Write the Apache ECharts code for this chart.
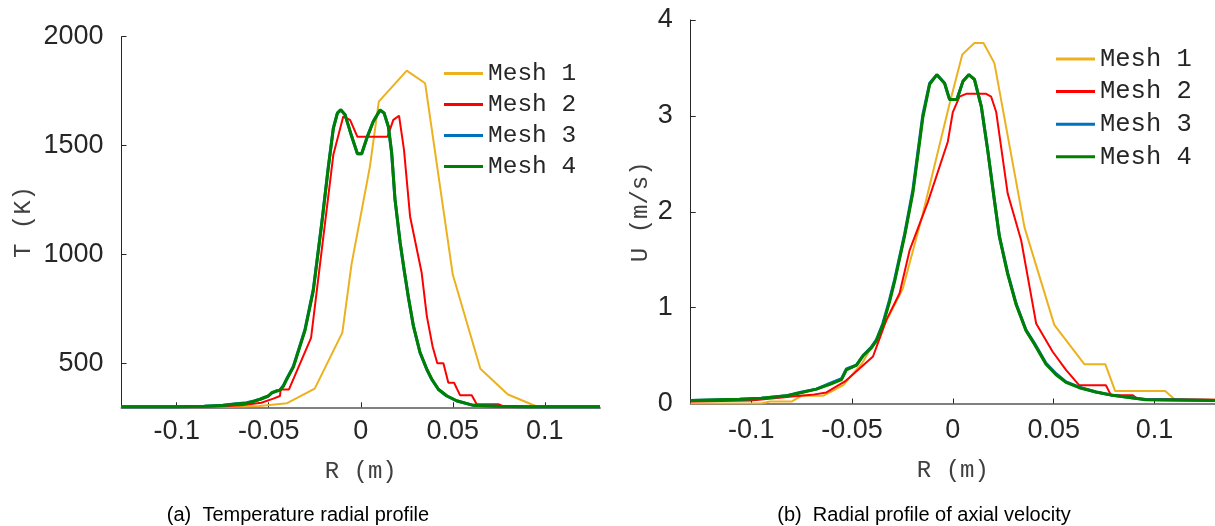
<!DOCTYPE html>
<html>
<head>
<meta charset="utf-8">
<script src="https://cdn.jsdelivr.net/npm/echarts@6/dist/echarts.min.js"></script>
<style>
html,body{margin:0;padding:0;background:#fff;}
#chart{width:1215px;height:526px;}
</style>
</head>
<body>
<div id="chart"></div>
<script>
// ---------- DATA ----------
var seriesNames = ['Mesh 1', 'Mesh 2', 'Mesh 3', 'Mesh 4'];
var xTicks = [-0.1, -0.05, 0, 0.05, 0.1];
var tTicks = [500, 1000, 1500, 2000];
var uTicks = [0, 1, 2, 3, 4];

// (a) Temperature radial profile
var tR1 = [-0.13, -0.1, -0.085, -0.07, -0.055, -0.04, -0.025, -0.01, -0.005, 0.005, 0.0098, 0.025, 0.035, 0.05, 0.065, 0.08, 0.095, 0.12, 0.13];
var tT1 = [300, 300, 300, 301, 303, 316, 383, 640, 955, 1404, 1702, 1844, 1786, 907, 474, 356, 303, 303, 300];

var tR2 = [-0.13, -0.09, -0.075, -0.065, -0.054, -0.0475, -0.0439, -0.0435, -0.039, -0.027, -0.0149, -0.0095, -0.0058, -0.0018, 0.0145, 0.0177, 0.0208, 0.0235, 0.0268, 0.0331, 0.0359, 0.039, 0.0416, 0.0449, 0.0476, 0.0507, 0.054, 0.0603, 0.063, 0.0748, 0.077, 0.09, 0.13];
var tT2 = [300, 300, 302, 306, 318, 337, 349, 379, 379, 616, 1457, 1633, 1618, 1540, 1540, 1618, 1637, 1480, 1174, 915, 716, 578, 499, 499, 410, 410, 352, 352, 311, 311, 303, 301, 300];

var tR3 = [-0.13, -0.1, -0.085, -0.075, -0.069, -0.062, -0.058, -0.0547, -0.0502, -0.0484, -0.0457, -0.044, -0.042, -0.0402, -0.0366, -0.0303, -0.0258, -0.0212, -0.0176, -0.0149, -0.0127, -0.0109, -0.0085, -0.0049, -0.0018, 0.0005, 0.0036, 0.0068, 0.0105, 0.0127, 0.015, 0.0168, 0.0186, 0.0214, 0.0235, 0.0259, 0.0286, 0.0322, 0.0359, 0.0386, 0.0422, 0.0467, 0.0522, 0.0612, 0.075, 0.09, 0.13];
var tT3 = [300, 300, 302, 306, 312, 318, 326, 334, 349, 362, 372, 375, 398, 428, 486, 655, 838, 1144, 1404, 1580, 1649, 1664, 1641, 1541, 1462, 1462, 1541, 1610, 1662, 1649, 1587, 1465, 1251, 1052, 930, 800, 670, 548, 471, 425, 379, 349, 326, 306, 302, 300, 300];

var tR4 = [-0.13, -0.1, -0.085, -0.075, -0.069, -0.062, -0.058, -0.0547, -0.0502, -0.0484, -0.0457, -0.044, -0.042, -0.0402, -0.0366, -0.0303, -0.0258, -0.0212, -0.0176, -0.0149, -0.0127, -0.0109, -0.0085, -0.0049, -0.0018, 0.0005, 0.0036, 0.0068, 0.0105, 0.0127, 0.015, 0.0168, 0.0186, 0.0214, 0.0235, 0.0259, 0.0286, 0.0322, 0.0359, 0.0386, 0.0422, 0.0467, 0.0522, 0.0612, 0.075, 0.09, 0.13];
var tT4 = [300, 300, 302, 305, 311, 316, 325, 334, 349, 364, 372, 376, 394, 426, 482, 650, 832, 1140, 1400, 1578, 1649, 1664, 1641, 1541, 1462, 1462, 1541, 1610, 1664, 1649, 1587, 1467, 1255, 1056, 934, 803, 672, 550, 472, 426, 380, 350, 327, 306, 302, 300, 300];

// (b) Radial profile of axial velocity
var uR1 = [-0.13, -0.095, -0.0907, -0.08, -0.0751, -0.0644, -0.0545, -0.045, -0.035, -0.0248, -0.0149, -0.0016, 0.0047, 0.0107, 0.0152, 0.0206, 0.0355, 0.0503, 0.0652, 0.0756, 0.0805, 0.1053, 0.1102, 0.13];
var uU1 = [0, 0, 0.02, 0.02, 0.08, 0.08, 0.19, 0.42, 0.78, 1.2, 1.98, 3.13, 3.64, 3.76, 3.76, 3.55, 1.84, 0.82, 0.41, 0.41, 0.13, 0.13, 0.04, 0.04];

var uR2 = [-0.13, -0.1, -0.081, -0.07, -0.0627, -0.0535, -0.0396, -0.0363, -0.033, -0.0264, -0.0214, -0.0124, -0.0025, 0, 0.0033, 0.0066, 0.0165, 0.019, 0.0215, 0.0272, 0.0339, 0.0413, 0.0495, 0.0561, 0.0627, 0.0759, 0.0784, 0.0891, 0.0916, 0.13];
var uU2 = [0.02, 0.03, 0.07, 0.09, 0.115, 0.23, 0.49, 0.68, 0.87, 1.15, 1.6, 2.1, 2.73, 3.04, 3.2, 3.23, 3.23, 3.2, 3.04, 2.19, 1.7, 0.835, 0.54, 0.35, 0.19, 0.19, 0.087, 0.087, 0.05, 0.04];

var uR3 = [-0.13, -0.1057, -0.095, -0.0825, -0.076, -0.0677, -0.061, -0.0552, -0.0528, -0.0478, -0.0445, -0.0404, -0.038, -0.0347, -0.0314, -0.0289, -0.0239, -0.0198, -0.0149, -0.0115, -0.0079, -0.0041, -0.0016, 0.002, 0.005, 0.0079, 0.0107, 0.0141, 0.0173, 0.0206, 0.0231, 0.0272, 0.0314, 0.0363, 0.0404, 0.0462, 0.0512, 0.0561, 0.0627, 0.071, 0.0792, 0.0957, 0.13];
var uU3 = [0.03, 0.045, 0.055, 0.08, 0.115, 0.15, 0.21, 0.26, 0.36, 0.4, 0.5, 0.59, 0.66, 0.835, 1.08, 1.29, 1.77, 2.23, 3.01, 3.34, 3.43, 3.34, 3.17, 3.17, 3.36, 3.43, 3.38, 3.1, 2.64, 2.12, 1.74, 1.36, 1.04, 0.765, 0.63, 0.42, 0.31, 0.225, 0.17, 0.12, 0.087, 0.042, 0.03];

var uR4 = [-0.13, -0.1057, -0.095, -0.0825, -0.076, -0.0677, -0.061, -0.0552, -0.0528, -0.0478, -0.0445, -0.0404, -0.038, -0.0347, -0.0314, -0.0289, -0.0239, -0.0198, -0.0149, -0.0115, -0.0079, -0.0041, -0.0016, 0.002, 0.005, 0.0079, 0.0107, 0.0141, 0.0173, 0.0206, 0.0231, 0.0272, 0.0314, 0.0363, 0.0404, 0.0462, 0.0512, 0.0561, 0.0627, 0.071, 0.0792, 0.0957, 0.13];
var uU4 = [0.03, 0.045, 0.055, 0.08, 0.11, 0.15, 0.2, 0.25, 0.35, 0.4, 0.5, 0.58, 0.65, 0.82, 1.06, 1.27, 1.75, 2.2, 2.98, 3.33, 3.43, 3.34, 3.17, 3.17, 3.36, 3.43, 3.38, 3.1, 2.64, 2.12, 1.74, 1.35, 1.03, 0.76, 0.62, 0.41, 0.3, 0.22, 0.165, 0.12, 0.085, 0.04, 0.03];

var colors = ['#EDB120', '#FF0000', '#0072BD', '#008000'];
var widths = [2, 2, 3, 3];

// ---------- BUILD ----------
function pairs(xs, ys) { return xs.map(function (x, i) { return [x, ys[i]]; }); }

var tempSets = [pairs(tR1, tT1), pairs(tR2, tT2), pairs(tR3, tT3), pairs(tR4, tT4)];
var velSets = [pairs(uR1, uU1), pairs(uR2, uU2), pairs(uR3, uU3), pairs(uR4, uU4)];

var tickFont = 'Liberation Sans';
var monoFont = 'Liberation Mono';
var textColor = '#262626';

function plainNum(v) { return String(v); }

function xAxisDef(gi, margin, gap) {
  return {
    type: 'value', gridIndex: gi, min: -0.13, max: 0.13,
    name: 'R (m)', nameLocation: 'middle', nameGap: gap,
    nameTextStyle: { fontFamily: monoFont, fontSize: 24, color: '#404040' },
    axisLine: { show: true, onZero: false, lineStyle: { color: '#808080', width: 2 } },
    axisTick: { show: true, inside: true, length: 5, lineStyle: { color: '#262626' }, customValues: xTicks },
    axisLabel: { fontFamily: tickFont, fontSize: 27, color: textColor, margin: margin, customValues: xTicks, formatter: plainNum },
    splitLine: { show: false }
  };
}
function yAxisDef(gi, min, max, ticks, name, gap) {
  return {
    type: 'value', gridIndex: gi, min: min, max: max,
    name: name, nameLocation: 'middle', nameGap: gap,
    nameTextStyle: { fontFamily: monoFont, fontSize: 24, color: '#404040' },
    axisLine: { show: true, onZero: false, lineStyle: { color: '#262626', width: 1 } },
    axisTick: { show: true, inside: true, length: 5, lineStyle: { color: '#262626' }, customValues: ticks },
    axisLabel: { fontFamily: tickFont, fontSize: 27, color: textColor, margin: 18, customValues: ticks, formatter: plainNum },
    splitLine: { show: false }
  };
}

var series = [];
seriesNames.forEach(function (n, i) {
  series.push({ name: n, type: 'line', xAxisIndex: 0, yAxisIndex: 0, data: tempSets[i], symbol: 'none', smooth: false,
    lineStyle: { color: colors[i], width: widths[i] }, itemStyle: { color: colors[i] }, z: 2 + i, animation: false });
});
seriesNames.forEach(function (n, i) {
  series.push({ name: n, type: 'line', xAxisIndex: 1, yAxisIndex: 1, data: velSets[i], symbol: 'none', smooth: false,
    lineStyle: { color: colors[i], width: widths[i] }, itemStyle: { color: colors[i] }, z: 2 + i, animation: false });
});

function legendDef(left, top, fs, gap) {
  return {
    orient: 'vertical', left: left, top: top, padding: 0,
    icon: 'rect', itemWidth: 39, itemHeight: 3, itemGap: gap,
    data: seriesNames, selectedMode: false,
    textStyle: { fontFamily: monoFont, fontSize: fs, color: textColor, lineHeight: 25 }
  };
}

var option = {
  backgroundColor: '#ffffff',
  animation: false,
  title: [
    { text: '(a)  Temperature radial profile', left: 293, top: 500, textAlign: 'center',
      textStyle: { fontFamily: tickFont, fontSize: 20, fontWeight: 'normal', color: '#000' } },
    { text: '(b)  Radial profile of axial velocity', left: 919, top: 500, textAlign: 'center',
      textStyle: { fontFamily: tickFont, fontSize: 20, fontWeight: 'normal', color: '#000' } }
  ],
  legend: [legendDef(444, 61, 24.5, 6), legendDef(1056, 46, 25.5, 6.6)],
  grid: [
    { left: 121.5, top: 36.7, width: 478.5, height: 370.6, containLabel: false },
    { left: 690.7, top: 20, width: 525, height: 383.5, containLabel: false }
  ],
  xAxis: [xAxisDef(0, 11, 52), xAxisDef(1, 14, 55)],
  yAxis: [yAxisDef(0, 297, 2000, tTicks, 'T (K)', 86), yAxisDef(1, 0, 4, uTicks, 'U (m/s)', 38)],
  series: series
};

var chart = echarts.init(document.getElementById('chart'), null, { renderer: 'canvas' });
chart.setOption(option);
</script>
</body>
</html>
